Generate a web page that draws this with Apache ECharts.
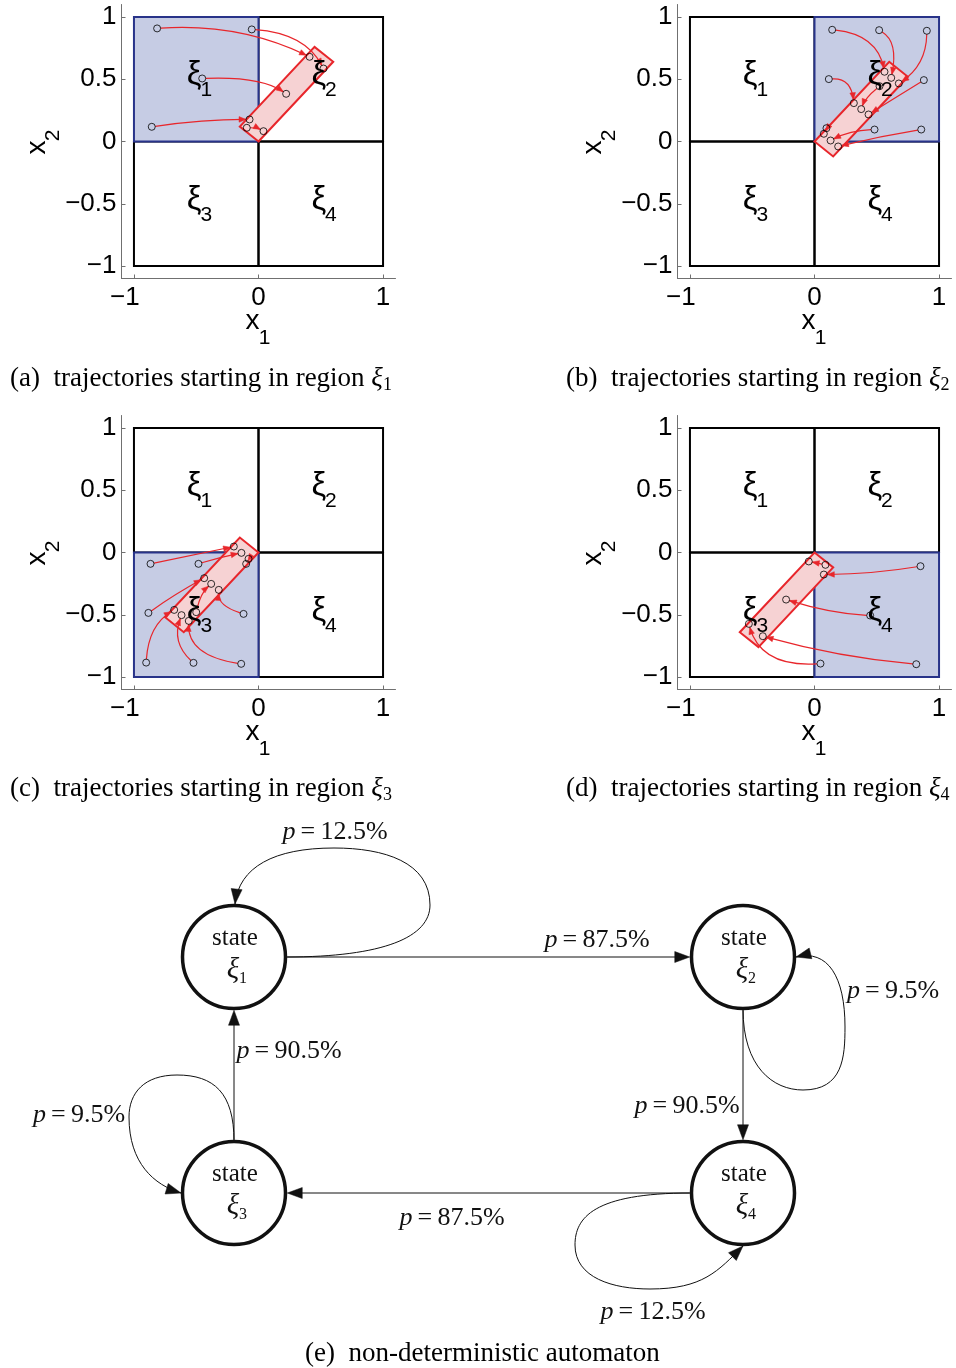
<!DOCTYPE html>
<html>
<head>
<meta charset="utf-8">
<script src="https://cdn.jsdelivr.net/npm/echarts@6/dist/echarts.min.js"></script>
<style>
  html, body { margin: 0; padding: 0; background: #fff; }
  #chart { width: 956px; height: 1368px; }
</style>
</head>
<body>
<div id="chart"></div>
<script>
// ---------------------------------------------------------------
// Data
// ---------------------------------------------------------------

// Partition of the state space into four regions: [x0, x1, y0, y1]
const regionBounds = [[-1, 0, 0, 1], [0, 1, 0, 1], [-1, 0, -1, 0], [0, 1, -1, 0]];
const regionIndex = ['1', '2', '3', '4'];

// Region each panel's trajectories start from
const panelStartRegion = [0, 1, 2, 3];
const panelLetters = ['a', 'b', 'c', 'd'];

// Tick values of the phase-plane axes
const xTickValues = [-1, 0, 1];
const yTickValues = [-1, -0.5, 0, 0.5, 1];

// Target sets (corners of the tilted rectangle) for each panel
const targetSetA = [[0, 0], [0.6, 0.64], [0.45, 0.76], [-0.15, 0.12]];
const targetSetB = [[0, 0], [0.6, 0.64], [0.75, 0.52], [0.15, -0.12]];
const targetSetC = [[0, 0], [-0.6, -0.64], [-0.75, -0.52], [-0.15, 0.12]];
const targetSetD = [[0, 0], [0.15, -0.12], [-0.45, -0.76], [-0.6, -0.64]];

// Trajectories: [start, intermediate point, end]
const trajectoriesA = [
  [[-0.814, 0.908], [-0.179, 0.873], [0.410, 0.680]],
  [[-0.054, 0.900], [0.303, 0.806], [0.522, 0.586]],
  [[-0.452, 0.506], [-0.046, 0.484], [0.222, 0.383]],
  [[-0.857, 0.118], [-0.447, 0.163], [-0.072, 0.177]],
  [[-0.094, 0.110], [-0.019, 0.104], [0.040, 0.083]]
];
const trajectoriesB = [
  [[0.142, 0.897], [0.428, 0.793], [0.562, 0.560]],
  [[0.519, 0.894], [0.621, 0.752], [0.616, 0.511]],
  [[0.902, 0.889], [0.843, 0.645], [0.677, 0.466]],
  [[0.115, 0.501], [0.254, 0.458], [0.316, 0.308]],
  [[0.878, 0.493], [0.656, 0.356], [0.434, 0.217]],
  [[0.482, 0.096], [0.295, 0.070], [0.129, 0.008]],
  [[0.857, 0.096], [0.522, 0.035], [0.190, -0.040]],
  [[0.522, 0.444], [0.428, 0.351], [0.375, 0.260]],
  [[0.096, 0.107], [0.088, 0.085], [0.075, 0.062]]
];
const trajectoriesC = [
  [[-0.867, -0.091], [-0.527, -0.021], [-0.198, 0.048]],
  [[-0.482, -0.091], [-0.313, -0.043], [-0.137, -0.003]],
  [[-0.884, -0.485], [-0.661, -0.337], [-0.436, -0.206]],
  [[-0.120, -0.493], [-0.273, -0.412], [-0.319, -0.300]],
  [[-0.902, -0.884], [-0.835, -0.627], [-0.677, -0.461]],
  [[-0.522, -0.886], [-0.635, -0.707], [-0.618, -0.503]],
  [[-0.139, -0.894], [-0.460, -0.774], [-0.560, -0.549]],
  [[-0.080, -0.051], [-0.088, -0.071], [-0.099, -0.091]],
  [[-0.500, -0.479], [-0.452, -0.345], [-0.380, -0.252]]
];
const trajectoriesD = [
  [[0.851, -0.110], [0.469, -0.158], [0.075, -0.177]],
  [[0.447, -0.506], [0.120, -0.466], [-0.228, -0.378]],
  [[0.817, -0.897], [0.201, -0.814], [-0.415, -0.672]],
  [[0.048, -0.892], [-0.335, -0.827], [-0.527, -0.573]],
  [[0.088, -0.099], [0.021, -0.085], [-0.046, -0.072]]
];

const targetSets = [targetSetA, targetSetB, targetSetC, targetSetD];
const trajectorySets = [trajectoriesA, trajectoriesB, trajectoriesC, trajectoriesD];

// Automaton: states laid out on a 2x2 lattice (column, row)
const stateIndex = ['1', '2', '3', '4'];
const stateCol = [0, 1, 0, 1];
const stateRow = [0, 0, 1, 1];

// Transitions between states with their probabilities (%)
const transFrom = [0, 0, 1, 1, 2, 2, 3, 3];
const transTo   = [0, 1, 1, 3, 2, 0, 3, 2];
const transProb = [12.5, 87.5, 9.5, 90.5, 9.5, 90.5, 12.5, 87.5];

// ---------------------------------------------------------------
// Styling and layout
// ---------------------------------------------------------------
const SANS = 'Liberation Sans';
const SERIF = 'Liberation Serif';
const RED = '#e8262b';
const PINK = '#f6d2d3';
const SHADE = '#c6cce4';
const NAVY = '#283389';
const AXIS_GRAY = '#707070';

const PLOT_SIZE = 274;
const panelPos = [[121.5, 4.5], [677.5, 4.5], [121.5, 415.5], [677.5, 415.5]];
const captionPos = [[10, 364], [566, 364], [10, 774], [566, 774]];

// Automaton drawing geometry (pixels)
const NODE_R = 51.5;
const NODE_W = 3.5;
const ARROW_LEN = 15;
const ARROW_HALF = 5.5;

// Self-loop outlines relative to the state centre: start point, then cubic segments
const loopShapes = {
  0: [[52, 0], [[150, 0], [196, -20], [196, -52]], [[196, -95], [150, -109], [100, -109]], [[40, -109], [5, -90], [1, -53]]],
  1: [[0, 52], [[0, 110], [30, 133], [60, 133]], [[100, 133], [102, 100], [102, 70]], [[102, 20], [85, -8], [53, 0]]],
  2: [[0, -52], [[0, -100], [-20, -118], [-57, -118]], [[-90, -118], [-105, -100], [-105, -76]], [[-105, -30], [-80, -8], [-53, 0]]],
  3: [[-52, 0], [[-150, 0], [-168, 25], [-168, 52]], [[-168, 85], [-130, 96], [-93, 96]], [[-40, 96], [-25, 78], [0, 53]]]
};
// Label anchor of each transition, relative to the source state centre
const transLabelOffset = [[101, -125], [363, -17], [150, 34], [-56, 149], [-155, -78], [55, -142], [-90, 119], [-291, 25]];

// ---------------------------------------------------------------
// Helpers
// ---------------------------------------------------------------
function yTickText(v) {
  return v < 0 ? '\u2212' + String(-v) : String(v);
}
// negative numbers sit with their digits over the tick
function xTickText(v) {
  return v < 0 ? '\u2212' + String(-v) + '\u2002\u2009' : String(v);
}

function arrowHead(tip, ux, uy, len, half) {
  const bx = tip[0] - ux * len, by = tip[1] - uy * len;
  return [[tip[0], tip[1]], [bx - uy * half, by + ux * half], [bx + uy * half, by - ux * half]];
}

function unit(dx, dy) {
  const l = Math.hypot(dx, dy) || 1;
  return [dx / l, dy / l];
}

function captionRich(size) {
  return {
    b: { fontFamily: SERIF, fontSize: size, color: '#000' },
    xi: { fontFamily: SERIF, fontStyle: 'italic', fontSize: size, color: '#000' },
    s: { fontFamily: SERIF, fontSize: Math.round(size * 0.67), padding: [12, 0, 0, 0], color: '#000' }
  };
}

function plainText(x, y, text, size, extra) {
  return Object.assign({
    type: 'text', x, y,
    style: { text, fontFamily: SANS, fontSize: size, fill: '#000', align: 'center', verticalAlign: 'middle' }
  }, extra || {});
}

// ---------------------------------------------------------------
// Build option
// ---------------------------------------------------------------
const grids = [], xAxes = [], yAxes = [], series = [], titles = [];

panelLetters.forEach((letter, i) => {
  grids.push({ left: panelPos[i][0], top: panelPos[i][1], width: PLOT_SIZE, height: PLOT_SIZE });

  xAxes.push({
    gridIndex: i, type: 'value', min: -1.1, max: 1.1,
    axisLine: { show: true, onZero: false, lineStyle: { color: AXIS_GRAY, width: 1 } },
    axisTick: { show: true, inside: true, length: 4, customValues: xTickValues, lineStyle: { color: AXIS_GRAY } },
    axisLabel: { customValues: xTickValues, formatter: xTickText, color: '#000', fontFamily: SANS, fontSize: 26, margin: 6 },
    splitLine: { show: false }
  });

  yAxes.push({
    gridIndex: i, type: 'value', min: -1.1, max: 1.1,
    axisLine: { show: true, onZero: false, lineStyle: { color: AXIS_GRAY, width: 1 } },
    axisTick: { show: true, inside: true, length: 4, customValues: yTickValues, lineStyle: { color: AXIS_GRAY } },
    axisLabel: { customValues: yTickValues, formatter: yTickText, color: '#000', fontFamily: SANS, fontSize: 26, margin: 5,
      padding: [4, 0, 0, 0] },
    splitLine: { show: false }
  });

  // Region partition with the starting region shaded
  series.push({
    type: 'custom', xAxisIndex: i, yAxisIndex: i, z: 2, silent: true,
    data: regionBounds.map((b, k) => b.concat([k === panelStartRegion[i] ? 1 : 0])),
    renderItem: (params, api) => {
      const hi = api.value(4) === 1;
      const a = api.coord([api.value(0), api.value(3)]);
      const b = api.coord([api.value(1), api.value(2)]);
      return {
        type: 'rect', z2: hi ? 10 : 1,
        shape: { x: a[0], y: a[1], width: b[0] - a[0], height: b[1] - a[1] },
        style: { fill: hi ? SHADE : 'none', stroke: hi ? NAVY : '#000', lineWidth: 2 }
      };
    }
  });

  // Target set
  series.push({
    type: 'custom', xAxisIndex: i, yAxisIndex: i, z: 3, silent: true,
    data: [targetSets[i].flat()],
    renderItem: (params, api) => {
      const pts = [];
      for (let k = 0; k < 4; k++) pts.push(api.coord([api.value(2 * k), api.value(2 * k + 1)]));
      return { type: 'polygon', shape: { points: pts }, style: { fill: PINK, stroke: RED, lineWidth: 2 } };
    }
  });

  // Trajectories with arrowheads
  series.push({
    type: 'custom', xAxisIndex: i, yAxisIndex: i, z: 4, silent: true,
    data: trajectorySets[i].map(t => t.flat()),
    renderItem: (params, api) => {
      const s = api.coord([api.value(0), api.value(1)]);
      const m = api.coord([api.value(2), api.value(3)]);
      const e = api.coord([api.value(4), api.value(5)]);
      const q = [2 * m[0] - (s[0] + e[0]) / 2, 2 * m[1] - (s[1] + e[1]) / 2];
      const ue = unit(e[0] - q[0], e[1] - q[1]);
      const us = unit(q[0] - s[0], q[1] - s[1]);
      const tip = [e[0] - ue[0] * 3.5, e[1] - ue[1] * 3.5];
      const st = [s[0] + us[0] * 3.5, s[1] + us[1] * 3.5];
      return {
        type: 'group',
        children: [
          {
            type: 'bezierCurve',
            shape: { x1: st[0], y1: st[1], cpx1: q[0], cpy1: q[1], x2: tip[0], y2: tip[1] },
            style: { fill: 'none', stroke: RED, lineWidth: 1.2 }
          },
          {
            type: 'polygon',
            shape: { points: arrowHead(tip, ue[0], ue[1], 7, 2.8) },
            style: { fill: RED, stroke: RED, lineWidth: 0.5 }
          }
        ]
      };
    }
  });

  // Start and end states of each trajectory
  series.push({
    type: 'scatter', xAxisIndex: i, yAxisIndex: i, z: 5, silent: true,
    symbol: 'circle', symbolSize: 7,
    itemStyle: { color: 'rgba(0,0,0,0)', borderColor: '#000', borderWidth: 1 },
    data: trajectorySets[i].flatMap(t => [t[0], t[2]])
  });

  // Region names
  series.push({
    type: 'custom', xAxisIndex: i, yAxisIndex: i, z: 6, silent: true,
    data: regionBounds.map((b, k) => [(b[0] + b[1]) / 2, (b[2] + b[3]) / 2, k]),
    renderItem: (params, api) => {
      const c = api.coord([api.value(0), api.value(1)]);
      return {
        type: 'group',
        children: [
          plainText(c[0] - 2, c[1] - 4, '\u03be', 33),
          plainText(c[0] + 10, c[1] + 11, regionIndex[api.value(2)], 21)
        ]
      };
    }
  });

  // Axis names x1 (below) and x2 (left, reading upwards)
  series.push({
    type: 'custom', xAxisIndex: i, yAxisIndex: i, z: 6, silent: true, clip: false,
    data: [[0, -1.1]],
    renderItem: (params, api) => {
      const bx = api.coord([api.value(0), api.value(1)]);
      const ly = api.coord([-1.1, 0]);
      return {
        type: 'group',
        children: [
          plainText(bx[0] - 6, bx[1] + 43, 'x', 28),
          plainText(bx[0] + 6, bx[1] + 60, '1', 21),
          plainText(ly[0] - 84, ly[1] + 6, 'x', 28, { rotation: Math.PI / 2 }),
          plainText(ly[0] - 68, ly[1] - 6, '2', 21, { rotation: Math.PI / 2 })
        ]
      };
    }
  });

  titles.push({
    text: '{b|(' + letter + ')  trajectories starting in region }{xi|\u03be}{s|' + regionIndex[panelStartRegion[i]] + '}',
    left: captionPos[i][0], top: captionPos[i][1], padding: 0,
    textStyle: { fontFamily: SERIF, fontSize: 27, fontWeight: 'normal', color: '#000', rich: captionRich(27) }
  });
});

// Automaton grid: lattice columns/rows map to state centres
const AG = 4;
grids.push({ left: 234, top: 957, width: 509, height: 236 });
xAxes.push({ gridIndex: AG, type: 'value', min: 0, max: 1, show: false });
yAxes.push({ gridIndex: AG, type: 'value', min: 0, max: 1, inverse: true, show: false });

// States
series.push({
  type: 'custom', xAxisIndex: AG, yAxisIndex: AG, z: 3, silent: true, clip: false,
  data: stateCol.map((c, k) => [c, stateRow[k], k]),
  renderItem: (params, api) => {
    const c = api.coord([api.value(0), api.value(1)]);
    return {
      type: 'group',
      children: [
        { type: 'circle', shape: { cx: c[0], cy: c[1], r: NODE_R }, style: { fill: '#fff', stroke: '#111', lineWidth: NODE_W } },
        { type: 'text', x: c[0] + 1, y: c[1] - 19,
          style: { text: 'state', fontFamily: SERIF, fontSize: 25, fill: '#111', align: 'center', verticalAlign: 'middle' } },
        { type: 'text', x: c[0] - 1, y: c[1] + 13,
          style: { text: '\u03be', fontFamily: SERIF, fontStyle: 'italic', fontSize: 29, fill: '#111', align: 'center', verticalAlign: 'middle' } },
        { type: 'text', x: c[0] + 9, y: c[1] + 22,
          style: { text: stateIndex[api.value(2)], fontFamily: SERIF, fontSize: 16, fill: '#111', align: 'center', verticalAlign: 'middle' } }
      ]
    };
  }
});

// Transitions
series.push({
  type: 'custom', xAxisIndex: AG, yAxisIndex: AG, z: 4, silent: true, clip: false,
  data: transFrom.map((f, k) => [f, transTo[k], transProb[k], k]),
  renderItem: (params, api) => {
    const f = api.value(0), t = api.value(1), p = api.value(2), k = api.value(3);
    const cf = api.coord([stateCol[f], stateRow[f]]);
    const ct = api.coord([stateCol[t], stateRow[t]]);
    const children = [];
    let tip, u;
    if (f === t) {
      const shp = loopShapes[f];
      let d = 'M' + (cf[0] + shp[0][0]) + ' ' + (cf[1] + shp[0][1]);
      for (let s = 1; s < shp.length; s++) {
        const seg = shp[s];
        d += ' C' + seg.map(pt => (cf[0] + pt[0]) + ' ' + (cf[1] + pt[1])).join(' ');
      }
      const last = shp[shp.length - 1];
      tip = [cf[0] + last[2][0], cf[1] + last[2][1]];
      u = unit(last[2][0] - last[1][0], last[2][1] - last[1][1]);
      children.push({ type: 'path', shape: { pathData: d }, style: { fill: 'none', stroke: '#111', lineWidth: 1 } });
    } else {
      u = unit(ct[0] - cf[0], ct[1] - cf[1]);
      const rr = NODE_R + NODE_W / 2;
      const st = [cf[0] + u[0] * rr, cf[1] + u[1] * rr];
      tip = [ct[0] - u[0] * rr, ct[1] - u[1] * rr];
      children.push({ type: 'line', shape: { x1: st[0], y1: st[1], x2: tip[0] - u[0] * 4, y2: tip[1] - u[1] * 4 },
        style: { stroke: '#111', lineWidth: 1 } });
    }
    children.push({ type: 'polygon', shape: { points: arrowHead(tip, u[0], u[1], ARROW_LEN, ARROW_HALF) },
      style: { fill: '#111', stroke: '#111', lineWidth: 0.5 } });
    const off = transLabelOffset[k];
    children.push({
      type: 'text', x: cf[0] + off[0], y: cf[1] + off[1],
      style: {
        text: '{p|p}{t|\u2009=\u2009' + p.toFixed(1) + '%}',
        align: 'center', verticalAlign: 'middle',
        rich: {
          p: { fontFamily: SERIF, fontStyle: 'italic', fontSize: 26, fill: '#111' },
          t: { fontFamily: SERIF, fontSize: 26, fill: '#111' }
        }
      }
    });
    return { type: 'group', children };
  }
});

titles.push({
  text: '{b|(e)  non-deterministic automaton}',
  left: 305, top: 1340, padding: 0,
  textStyle: { fontFamily: SERIF, fontSize: 27, fontWeight: 'normal', color: '#000', rich: captionRich(27) }
});

const chart = echarts.init(document.getElementById('chart'), null, { renderer: 'canvas' });
chart.setOption({
  animation: false,
  backgroundColor: '#fff',
  title: titles,
  grid: grids,
  xAxis: xAxes,
  yAxis: yAxes,
  series
});
</script>
</body>
</html>
